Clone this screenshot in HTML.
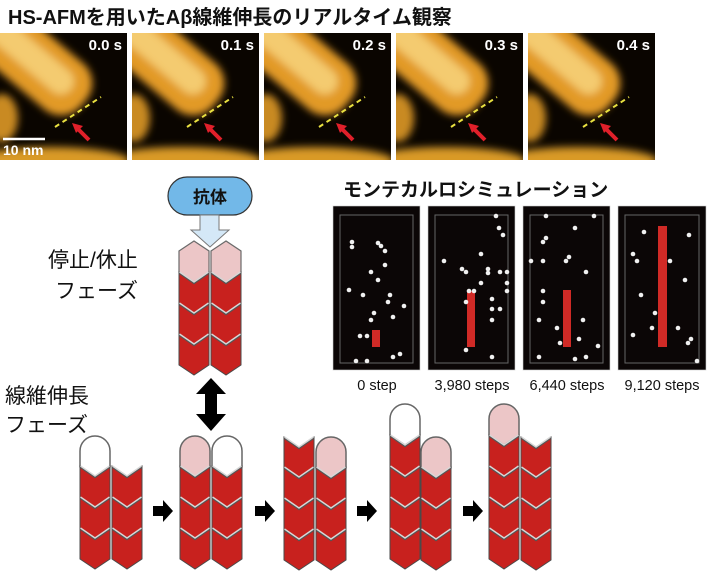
<!DOCTYPE html>
<html><head><meta charset="utf-8"><style>
body{margin:0;background:#fff;width:708px;height:574px;overflow:hidden}
svg{display:block}
text{font-family:"Liberation Sans","Noto Sans CJK JP",sans-serif}
</style></head><body>
<svg width="708" height="574" viewBox="0 0 708 574" xmlns="http://www.w3.org/2000/svg">
<defs>
<g id="u"><polygon points="0,0 15,10 30,0 30,31 15,41 0,31" fill="#c8211e" stroke="#4a4a4a" stroke-width="1"/>
<polyline points="0.5,1 15,11 29.5,1" fill="none" stroke="#555" stroke-width="2.2"/>
<polyline points="0.5,0 15,10 29.5,0" fill="none" stroke="#d8d8d8" stroke-width="1.4"/></g>
<polygon id="pk" points="0,10 15,0 30,10 30,31 15,41 0,31" fill="#ecc6c7" stroke="#6a6a6a" stroke-width="1.2"/>
<path id="cw" d="M0,31 V15 A15,15 0 0 1 30,15 V31 L15,41 Z" fill="#fff" stroke="#666" stroke-width="1.5"/>
<path id="cp" d="M0,31 V15 A15,15 0 0 1 30,15 V31 L15,41 Z" fill="#ecc6c7" stroke="#666" stroke-width="1.5"/>
<polygon id="ar" points="0,6 10,6 10,0 20,11 10,22 10,16 0,16" fill="#000"/>
<filter id="bl"><feGaussianBlur stdDeviation="4"/></filter>
<clipPath id="pc"><rect width="127" height="127"/></clipPath>
<g id="afm">
<rect width="127" height="127" fill="#0a0500"/>
<g clip-path="url(#pc)">
<g filter="url(#bl)">
<rect x="-75" y="-30" width="145" height="60" rx="26" fill="#e29a26" transform="translate(30,25) rotate(40)"/>
<rect x="-60" y="-14" width="115" height="26" rx="13" fill="#f4cb70" transform="translate(28,22) rotate(40)"/>
<ellipse cx="2" cy="85" rx="16" ry="24" fill="#c98a20"/>
<ellipse cx="50" cy="128" rx="80" ry="14" fill="#d99a28"/>
</g>
</g>
<line x1="55" y1="94" x2="101" y2="64" stroke="#e8e040" stroke-width="2" stroke-dasharray="5,4"/>
<line x1="89" y1="107" x2="78" y2="96" stroke="#e0202a" stroke-width="4"/>
<polygon points="72,90 83,93 76,100" fill="#e0202a"/>
</g>
</defs>

<text x="8" y="24" font-size="20" font-weight="bold" fill="#111">HS-AFMを用いたAβ線維伸長のリアルタイム観察</text>

<g transform="translate(0,33)"><use href="#afm"/><text x="122" y="17" font-size="15" font-weight="bold" fill="#fff" text-anchor="end">0.0 s</text>
<line x1="3" y1="106" x2="45" y2="106" stroke="#fff" stroke-width="2.5"/><text x="3" y="122" font-size="14" font-weight="bold" fill="#fff">10 nm</text></g>
<g transform="translate(132,33)"><use href="#afm"/><text x="122" y="17" font-size="15" font-weight="bold" fill="#fff" text-anchor="end">0.1 s</text></g>
<g transform="translate(264,33)"><use href="#afm"/><text x="122" y="17" font-size="15" font-weight="bold" fill="#fff" text-anchor="end">0.2 s</text></g>
<g transform="translate(396,33)"><use href="#afm"/><text x="122" y="17" font-size="15" font-weight="bold" fill="#fff" text-anchor="end">0.3 s</text></g>
<g transform="translate(528,33)"><use href="#afm"/><text x="122" y="17" font-size="15" font-weight="bold" fill="#fff" text-anchor="end">0.4 s</text></g>

<rect x="168" y="177" width="84" height="38" rx="19" fill="#72b8e8" stroke="#333" stroke-width="1.2"/>
<text x="210" y="203" font-size="17" font-weight="bold" text-anchor="middle" fill="#111">抗体</text>
<polygon points="200,215 219,215 219,230 229,230 210,247 191,230 200,230" fill="#d4e8f7" stroke="#777" stroke-width="1"/>

<g transform="translate(179,241)"><use href="#pk"/><use href="#u" y="31"/><use href="#u" y="62"/><use href="#u" y="93"/></g>
<g transform="translate(211,241)"><use href="#pk"/><use href="#u" y="31"/><use href="#u" y="62"/><use href="#u" y="93"/></g>

<polygon points="211,378 226,394 217,394 217,414 226,414 211,431 196,414 205,414 205,394 196,394" fill="#000"/>

<text x="48" y="267" font-size="21" fill="#111">停止/休止</text>
<text x="55" y="298" font-size="21" fill="#111">フェーズ</text>
<text x="5" y="403" font-size="21" fill="#111">線維伸長</text>
<text x="5" y="432" font-size="21" fill="#111">フェーズ</text>

<g transform="translate(80,436)"><use href="#cw"/><use href="#u" y="30"/><use href="#u" y="61"/><use href="#u" y="92"/></g>
<g transform="translate(112,466)"><use href="#u"/><use href="#u" y="31"/><use href="#u" y="62"/></g>
<g transform="translate(180,436)"><use href="#cp"/><use href="#u" y="30"/><use href="#u" y="61"/><use href="#u" y="92"/></g>
<g transform="translate(212,436)"><use href="#cw"/><use href="#u" y="30"/><use href="#u" y="61"/><use href="#u" y="92"/></g>
<g transform="translate(284,437)"><use href="#u"/><use href="#u" y="30"/><use href="#u" y="61"/><use href="#u" y="92"/></g>
<g transform="translate(316,437)"><use href="#cp"/><use href="#u" y="30"/><use href="#u" y="61"/><use href="#u" y="92"/></g>
<g transform="translate(390,404)"><use href="#cw"/><use href="#u" y="31"/><use href="#u" y="62"/><use href="#u" y="93"/><use href="#u" y="124"/></g>
<g transform="translate(421,437)"><use href="#cp"/><use href="#u" y="30"/><use href="#u" y="61"/><use href="#u" y="92"/></g>
<g transform="translate(489,404)"><use href="#cp"/><use href="#u" y="31"/><use href="#u" y="62"/><use href="#u" y="93"/><use href="#u" y="124"/></g>
<g transform="translate(521,437)"><use href="#u"/><use href="#u" y="30"/><use href="#u" y="61"/><use href="#u" y="92"/></g>

<use href="#ar" x="153" y="500"/>
<use href="#ar" x="255" y="500"/>
<use href="#ar" x="357" y="500"/>
<use href="#ar" x="463" y="500"/>

<text x="343" y="196" font-size="19" font-weight="bold" fill="#111">モンテカルロシミュレーション</text>
<g fill="#0b0606" stroke="#ccc" stroke-width="0.6">
<rect x="333" y="206" width="87" height="164"/><rect x="428" y="206" width="87" height="164"/>
<rect x="523" y="206" width="87" height="164"/><rect x="618" y="206" width="88" height="164"/>
</g>
<g fill="none" stroke="#666" stroke-width="1">
<rect x="340" y="215" width="73" height="148"/><rect x="435" y="215" width="73" height="148"/>
<rect x="530" y="215" width="73" height="148"/><rect x="625" y="215" width="74" height="148"/>
</g>
<g fill="#d02a26">
<rect x="372" y="330" width="8" height="17"/><rect x="467" y="291" width="8" height="56"/>
<rect x="563" y="290" width="8" height="57"/><rect x="658" y="226" width="9" height="121"/>
</g>
<g fill="#f0f0f0">
<circle cx="352" cy="242" r="2.3"/><circle cx="352" cy="247" r="2.3"/><circle cx="385" cy="251" r="2.3"/><circle cx="381" cy="246" r="2.3"/><circle cx="378" cy="243" r="2.3"/><circle cx="385" cy="265" r="2.3"/><circle cx="371" cy="272" r="2.3"/><circle cx="378" cy="280" r="2.3"/><circle cx="349" cy="290" r="2.3"/><circle cx="363" cy="295" r="2.3"/><circle cx="390" cy="295" r="2.3"/><circle cx="388" cy="302" r="2.3"/><circle cx="404" cy="306" r="2.3"/><circle cx="374" cy="313" r="2.3"/><circle cx="393" cy="317" r="2.3"/><circle cx="371" cy="320" r="2.3"/><circle cx="360" cy="336" r="2.3"/><circle cx="367" cy="336" r="2.3"/><circle cx="393" cy="357" r="2.3"/><circle cx="400" cy="354" r="2.3"/><circle cx="356" cy="361" r="2.3"/><circle cx="367" cy="361" r="2.3"/>
<circle cx="496" cy="216" r="2.3"/><circle cx="499" cy="228" r="2.3"/><circle cx="503" cy="235" r="2.3"/><circle cx="444" cy="261" r="2.3"/><circle cx="481" cy="254" r="2.3"/><circle cx="462" cy="269" r="2.3"/><circle cx="466" cy="272" r="2.3"/><circle cx="488" cy="269" r="2.3"/><circle cx="488" cy="273" r="2.3"/><circle cx="500" cy="272" r="2.3"/><circle cx="507" cy="272" r="2.3"/><circle cx="507" cy="283" r="2.3"/><circle cx="481" cy="283" r="2.3"/><circle cx="507" cy="291" r="2.3"/><circle cx="492" cy="299" r="2.3"/><circle cx="466" cy="302" r="2.3"/><circle cx="492" cy="309" r="2.3"/><circle cx="500" cy="309" r="2.3"/><circle cx="492" cy="320" r="2.3"/><circle cx="466" cy="350" r="2.3"/><circle cx="492" cy="357" r="2.3"/><circle cx="469" cy="291" r="2.3"/><circle cx="474" cy="291" r="2.3"/>
<circle cx="546" cy="216" r="2.3"/><circle cx="594" cy="216" r="2.3"/><circle cx="575" cy="228" r="2.3"/><circle cx="543" cy="242" r="2.3"/><circle cx="546" cy="238" r="2.3"/><circle cx="531" cy="261" r="2.3"/><circle cx="543" cy="261" r="2.3"/><circle cx="566" cy="261" r="2.3"/><circle cx="569" cy="257" r="2.3"/><circle cx="586" cy="272" r="2.3"/><circle cx="543" cy="291" r="2.3"/><circle cx="543" cy="302" r="2.3"/><circle cx="539" cy="320" r="2.3"/><circle cx="557" cy="328" r="2.3"/><circle cx="583" cy="320" r="2.3"/><circle cx="579" cy="339" r="2.3"/><circle cx="560" cy="343" r="2.3"/><circle cx="598" cy="346" r="2.3"/><circle cx="539" cy="357" r="2.3"/><circle cx="575" cy="359" r="2.3"/><circle cx="586" cy="357" r="2.3"/>
<circle cx="644" cy="232" r="2.3"/><circle cx="689" cy="235" r="2.3"/><circle cx="633" cy="254" r="2.3"/><circle cx="637" cy="261" r="2.3"/><circle cx="670" cy="261" r="2.3"/><circle cx="685" cy="280" r="2.3"/><circle cx="641" cy="295" r="2.3"/><circle cx="655" cy="313" r="2.3"/><circle cx="652" cy="328" r="2.3"/><circle cx="678" cy="328" r="2.3"/><circle cx="633" cy="335" r="2.3"/><circle cx="688" cy="343" r="2.3"/><circle cx="691" cy="339" r="2.3"/><circle cx="697" cy="361" r="2.3"/>
</g>
<g font-size="14.5" fill="#111" text-anchor="middle">
<text x="377" y="390">0 step</text><text x="472" y="390">3,980 steps</text>
<text x="567" y="390">6,440 steps</text><text x="662" y="390">9,120 steps</text>
</g>
</svg>
</body></html>
